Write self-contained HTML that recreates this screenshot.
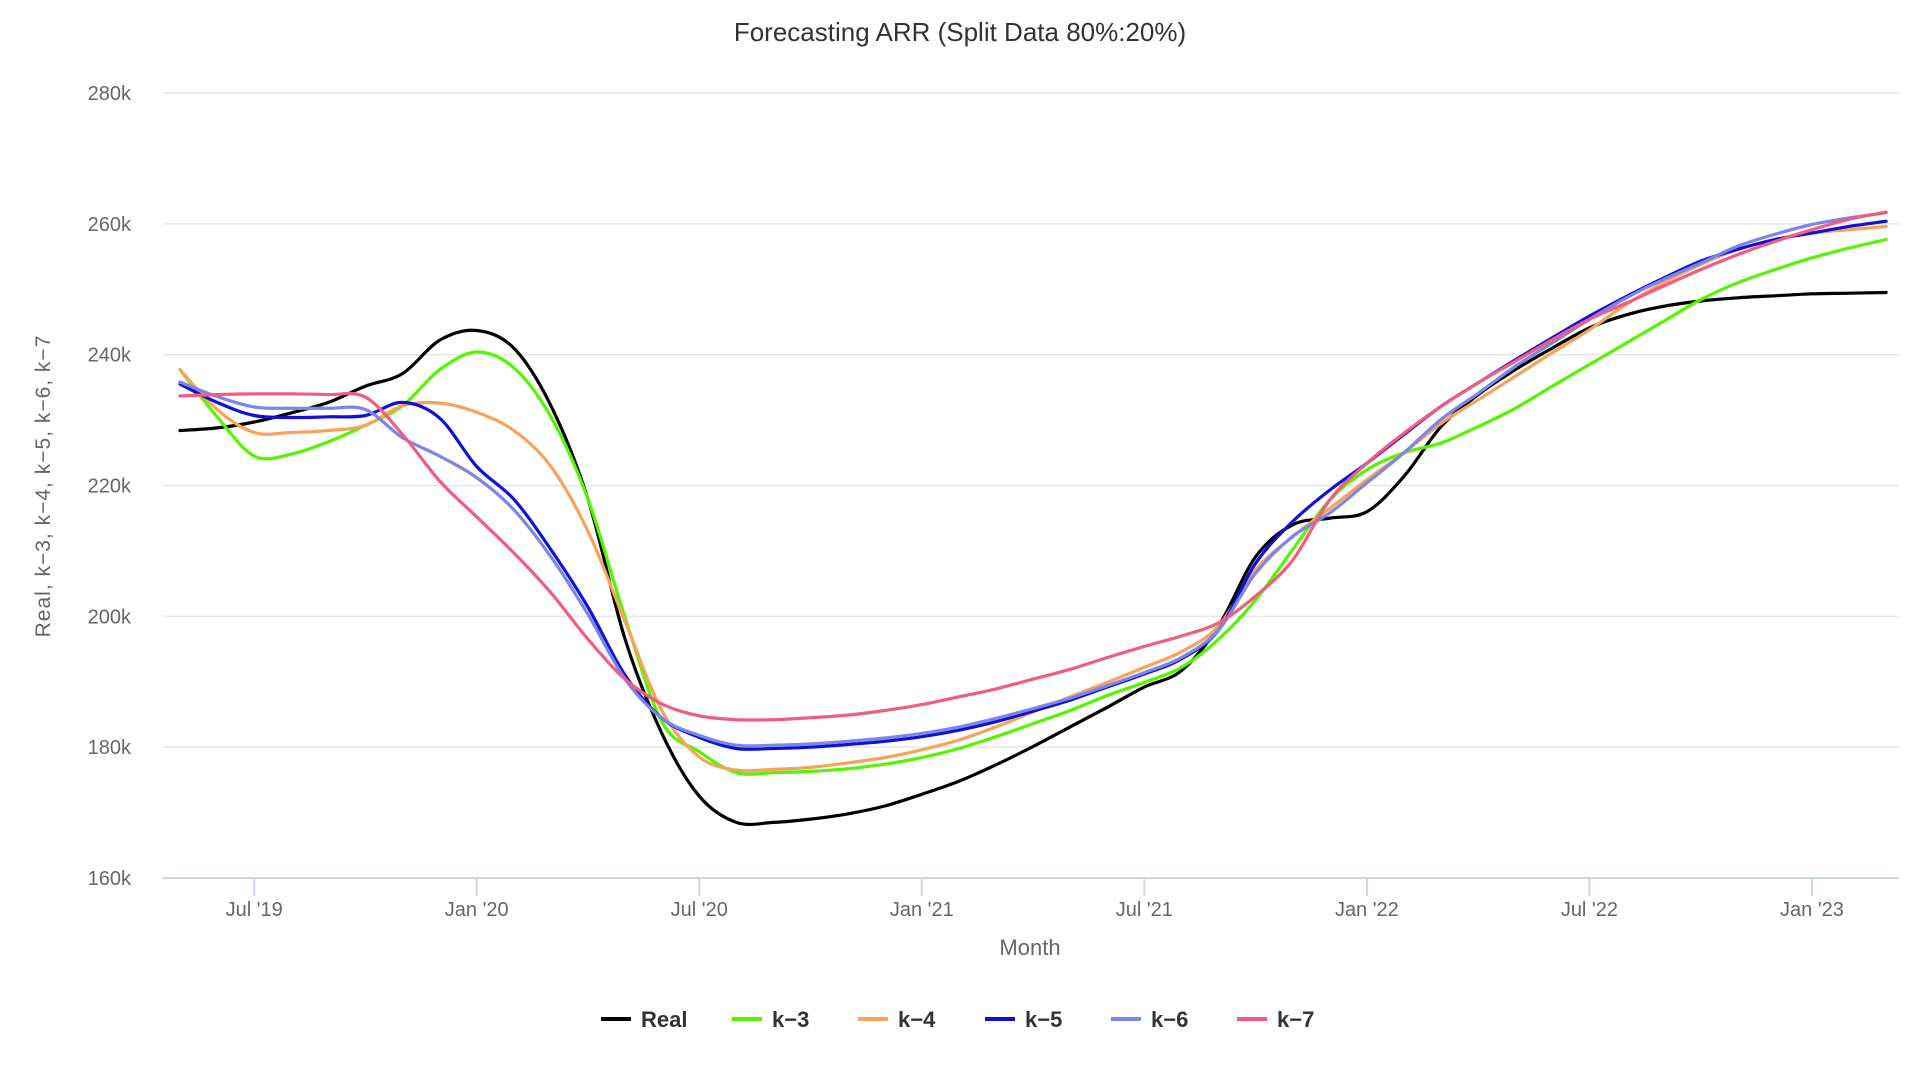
<!DOCTYPE html>
<html><head><meta charset="utf-8"><style>
html,body{margin:0;padding:0;background:#fff;}
svg{display:block;font-family:"Liberation Sans",sans-serif;}
</style></head><body>
<svg id="chart" width="1920" height="1080" viewBox="0 0 1920 1080" xmlns="http://www.w3.org/2000/svg">
<text x="960" y="41" text-anchor="middle" font-size="26" fill="#333">Forecasting ARR (Split Data 80%:20%)</text>
<g id="grid"></g>
<g id="xaxis"></g>
<g id="yaxis"></g>
<text transform="translate(50,486) rotate(-90)" text-anchor="middle" font-size="21" fill="#666" letter-spacing="1">Real, k−3, k−4, k−5, k−6, k−7</text>
<text x="1030" y="955" text-anchor="middle" font-size="22" fill="#666">Month</text>
<g id="series"></g>
<g id="legend"></g>
</svg>
<script>
const seriesNames = ["Real","k-3","k-4","k-5","k-6","k-7"];
const seriesColors = ["#000000","#55f500","#f7a35c","#1010d8","#7c86e8","#f15c80"];
const yTicks = [160,180,200,220,240,260,280];
const xTickLabels = ["Jul '19","Jan '20","Jul '20","Jan '21","Jul '21","Jan '22","Jul '22","Jan '23"];
const xTickMonths = [2,8,14,20,26,32,38,44];
// monthly values (k), May 2019 .. Mar 2023
const real = [228.4,228.8,229.7,231.1,232.7,235.2,237.1,242.2,243.7,241,232.2,217.9,196.5,182,172.5,168.5,168.5,169,169.8,171,172.8,174.8,177.3,180.1,183.1,186.1,189.2,191.7,198.5,209.1,214,215,216,221.4,229,233.9,237.7,241,244.1,246.1,247.4,248.2,248.7,249,249.3,249.4,249.5];
const k3 = [237.7,230.5,224.5,224.8,226.7,229.2,232.2,237.7,240.4,238,230.5,217.9,199.8,183.8,179.3,176.1,176.1,176.3,176.7,177.4,178.4,179.8,181.6,183.6,185.6,187.9,189.9,192.2,196.5,202.5,210.2,217.8,222.4,225,226.5,229,231.8,235.2,238.5,241.8,245.1,248.4,251,253,254.8,256.3,257.6];
const k4 = [237.7,231.6,228.1,228.1,228.4,229.2,232.2,232.6,231.2,228.4,222.9,213,199.2,185.5,178.5,176.5,176.6,176.9,177.6,178.4,179.6,181.1,183.1,185.4,187.7,189.9,192.2,194.6,198.5,207.1,212.2,216.5,220.9,225,229.5,233.1,236.7,240.3,243.8,247.7,251,253.8,256.1,257.6,258.6,259.1,259.6];
const k5 = [235.5,232.7,230.7,230.4,230.5,230.7,232.7,230.3,222.9,217.9,210.2,201.4,191,184.4,181.5,179.8,179.8,180,180.4,180.9,181.6,182.6,183.9,185.5,187.2,189.2,191.2,193.5,197.9,208.1,214.5,219.3,223.4,227.8,232.1,235.7,239.2,242.6,245.9,248.9,251.7,254.3,256.1,257.6,258.6,259.6,260.4];
const k6 = [235.8,233.6,232,231.8,231.8,231.6,227.3,224.5,221.2,216.3,209.1,200.3,190.4,184.4,181.8,180.3,180.3,180.5,180.9,181.4,182.1,183.1,184.4,185.9,187.5,189.4,191.4,193.7,197.9,206.6,212.2,215.8,220.4,225,230.1,234.1,238.2,241.8,245.4,248.7,251.5,254,256.6,258.4,259.9,260.9,261.7];
const k7 = [233.7,233.9,234,234,233.9,233.5,227.8,220.7,215.2,209.7,203.6,196.5,190.4,186.6,184.8,184.2,184.2,184.5,184.9,185.6,186.5,187.7,188.9,190.4,191.9,193.7,195.4,197,199,203.1,208.6,217.8,223.4,228,232.1,235.7,239,242.3,245.4,247.9,250.5,253,255.3,257.3,259.1,260.7,261.8];
const allSeries = [real,k3,k4,k5,k6,k7];

const NS="http://www.w3.org/2000/svg";
const L=163,R=1899,T=93,B=878;
const x0=180, perMonth=37.09;
const xScale = m => x0 + m*perMonth;
const yScale = v => B - (v-160)/(280-160)*(B-T);
function mk(tag,attrs,parent){const e=document.createElementNS(NS,tag);for(const k in attrs)e.setAttribute(k,attrs[k]);parent.appendChild(e);return e;}
const grid=document.getElementById('grid'), xa=document.getElementById('xaxis'), ya=document.getElementById('yaxis');
yTicks.forEach(v=>{
  const y=yScale(v);
  if(v!==160){const g=mk('line',{x1:L,x2:R,y1:y,y2:y,stroke:'#e6e6e6','stroke-width':1.5},grid);
  
  }
  const t=mk('text',{x:131,y:y+7,'text-anchor':'end','font-size':20,fill:'#666'},ya);
  t.textContent=v+'k';
  
  
});
const axl=mk('line',{x1:L,x2:R,y1:B,y2:B,stroke:'#ccd6eb','stroke-width':2},xa);


xTickMonths.forEach((m,i)=>{
  const x=xScale(m);
  const tk=mk('line',{x1:x,x2:x,y1:B,y2:B+18,stroke:'#ccd6eb','stroke-width':2},xa);
  
  
  const t=mk('text',{x:x,y:916,'text-anchor':'middle','font-size':20,fill:'#666'},xa);
  t.textContent=xTickLabels[i];
  
  
});
function pathFor(arr){
  const p=arr.map((v,i)=>[xScale(i),yScale(v)]);
  let d='M'+p[0][0].toFixed(1)+','+p[0][1].toFixed(1);
  for(let i=0;i<p.length-1;i++){
    const p0=p[i-1]||p[i],p1=p[i],p2=p[i+1],p3=p[i+2]||p2;
    const c1=[p1[0]+(p2[0]-p0[0])/6,p1[1]+(p2[1]-p0[1])/6];
    const c2=[p2[0]-(p3[0]-p1[0])/6,p2[1]-(p3[1]-p1[1])/6];
    d+='C'+c1[0].toFixed(1)+','+c1[1].toFixed(1)+' '+c2[0].toFixed(1)+','+c2[1].toFixed(1)+' '+p2[0].toFixed(1)+','+p2[1].toFixed(1);
  }
  return d;
}
const sg=document.getElementById('series');
allSeries.forEach((arr,i)=>{
  const pth=mk('path',{d:pathFor(arr),fill:'none',stroke:seriesColors[i],'stroke-width':3.2,'stroke-linejoin':'round','stroke-linecap':'round'},sg);
  
  
});
const lg=document.getElementById('legend');
const legX=[601,732,858,985,1111,1237];
seriesNames.forEach((n,i)=>{
  const g=mk('g',{},lg);
  
  
  mk('line',{x1:legX[i],x2:legX[i]+30,y1:1019,y2:1019,stroke:seriesColors[i],'stroke-width':4},g);
  const t=mk('text',{x:legX[i]+40,y:1027,'font-size':22,'font-weight':'bold',fill:'#333'},g);
  t.textContent=n.replace('-','−');
});
</script>
</body></html>
